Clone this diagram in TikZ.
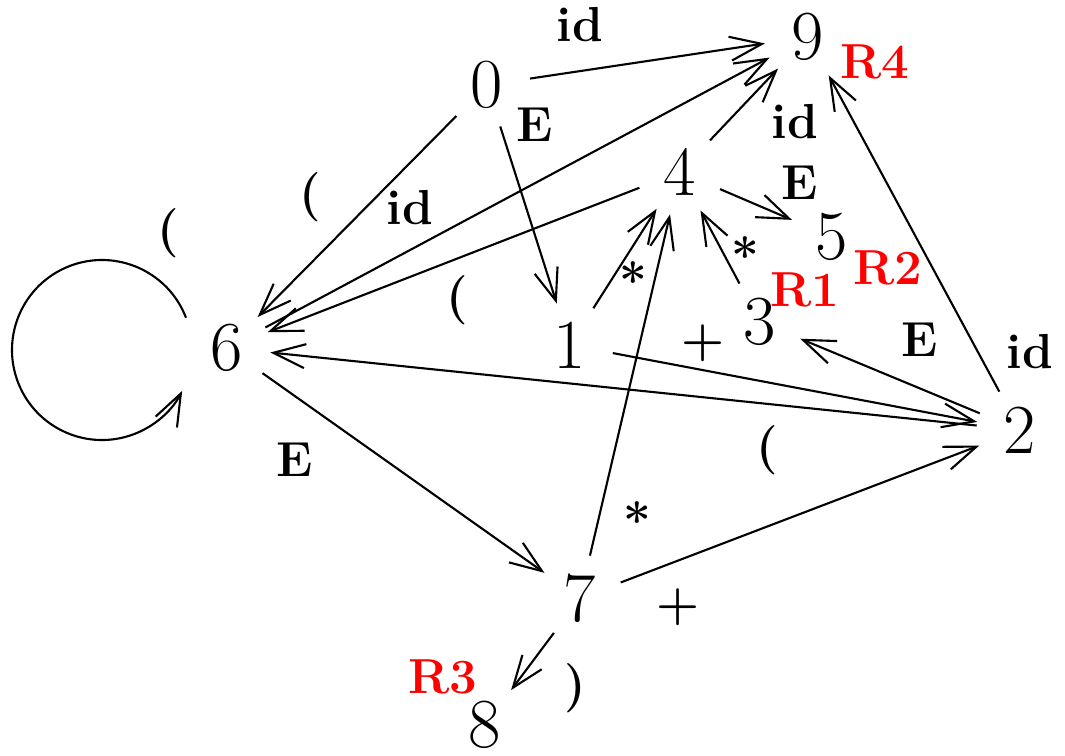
\documentclass[tikz,border=0pt]{standalone}
\usetikzlibrary{arrows.meta}

\tikzset{
    state/.style={circle, minimum size=0.85cm, inner sep=0pt, font=\fontsize{20}{24}\selectfont},
    lbl/.style={font=\fontsize{14}{16}\selectfont\bfseries},
    rtag/.style={lbl, text=red}
}

\begin{document}
\begin{tikzpicture}[>={Straight Barb[length=3.2mm,width=2.4mm]}, line width=0.6pt]
    \useasboundingbox (0,0) rectangle (10.65,7.55);

    % States
    \node[state] (n0) at (4.87,6.70) {0};
    \node[state] (n9) at (8.08,7.18) {9};
    \node[state] (n4) at (6.80,5.83) {4};
    \node[state] (n5) at (8.32,5.18) {5};
    \node[state] (n6) at (2.27,4.07) {6};
    \node[state] (n1) at (5.70,4.10) {1};
    \node[state] (n3) at (7.60,4.33) {3};
    \node[state] (n2) at (10.20,3.25) {2};
    \node[state] (n7) at (5.80,1.57) {7};
    \node[state] (n8) at (4.85,0.30) {8};

    % Reductions
    \node[rtag] (r4) at (8.75,6.93) {R4};
    \node[rtag] (r2) at (8.88,4.87) {R2};
    \node[rtag] (r1) at (8.05,4.65) {R1};
    \node[rtag] (r3) at (4.43,0.78) {R3};

    % Transitions
    \draw[->] (n0) -- (n9) node[lbl] at (5.80,7.30) {id};
    \draw[->] (n0) -- (n6) node[lbl] at (3.10,5.58) {(};
    \draw[->] (n0) -- (n1) node[lbl] at (5.35,6.30) {E};
    \draw[->] (n6) -- (n9) node[lbl] at (4.10,5.47) {id};
    \draw[->] (n4) -- (n6) node[lbl] at (4.57,4.55) {(};
    \draw[->] (n4) -- (n9) node[lbl] at (7.95,6.33) {id};
    \draw[->] (n4) -- (n5) node[lbl] at (8.00,5.72) {E};
    \draw[->] (n1) -- (n4) node[lbl] at (6.33,4.75) {*};
    \draw[->] (n3) -- (n4) node[lbl] at (7.45,5.00) {*};
    \draw[->] (n7) -- (n4) node[lbl] at (6.37,2.35) {*};
    \draw[->] (n1) -- (n2) node[lbl] at (7.03,4.12) {+};
    \draw[->] (n2) -- (n6) node[lbl] at (7.67,3.05) {(};
    \draw[->] (n2) -- (n3) node[lbl] at (9.20,4.15) {E};
    \draw[->] (n2) -- (n9) node[lbl] at (10.30,4.03) {id};
    \draw[->] (n6) -- (n7) node[lbl] at (2.95,2.95) {E};
    \draw[->] (n7) -- (n2) node[lbl] at (6.78,1.48) {+};
    \draw[->] (n7) -- (n8) node[lbl] at (5.75,0.67) {)};

    % Loop on 6
    \coordinate (loopc) at (1.02,4.05);
    \draw[->] ([shift={(21:0.9)}]loopc) arc[start angle=21, end angle=333, radius=0.9]
        node[lbl] at (1.68,5.22) {(};
\end{tikzpicture}
\end{document}
